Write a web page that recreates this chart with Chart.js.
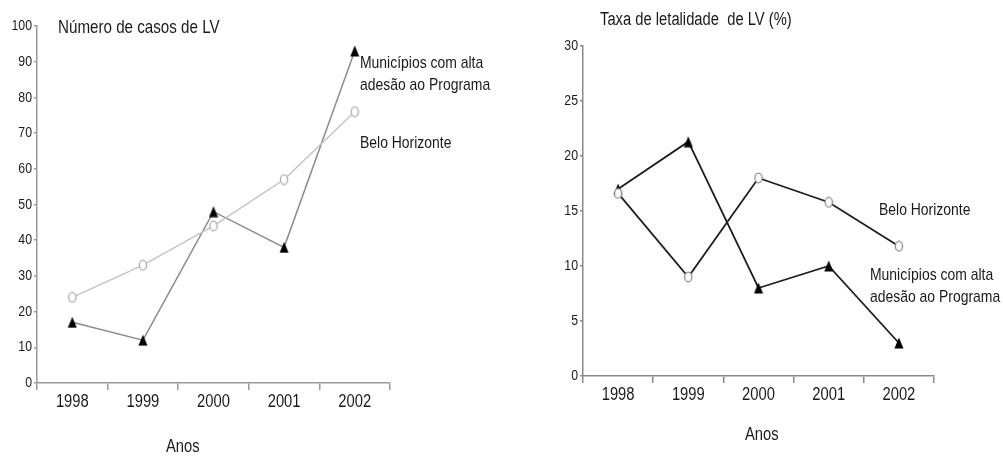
<!DOCTYPE html>
<html lang="pt">
<head>
<meta charset="utf-8">
<script src="https://cdn.jsdelivr.net/npm/chart.js@4.4.1/dist/chart.umd.min.js"></script>
<style>
  html, body { margin: 0; padding: 0; background: #fff; }
  #wrap { position: relative; width: 1003px; height: 457px; overflow: hidden; }
  #casos { position: absolute; left: 0; top: 0; }
  #letal { position: absolute; left: 540px; top: 0; }
</style>
</head>
<body>
<div id="wrap">
  <canvas id="casos" width="540" height="457"></canvas>
  <canvas id="letal" width="463" height="457"></canvas>
</div>
<script>
// Anos do período
const anos = ['1998', '1999', '2000', '2001', '2002'];

// Número de casos de LV
const casosBH = [24, 33, 44, 57, 76];
const casosMunicipios = [17, 12, 48, 38, 93];

// Taxa de letalidade de LV (%)
const letalBH = [16.6, 9, 18, 15.8, 11.8];
const letalMunicipios = [17, 21.3, 8, 10, 3];

const FONT = '"Liberation Sans", Arial, sans-serif';
const SQUEEZE = 0.82;   // compressão horizontal do texto
const INK = '#1a1a1a';

// Texto estreito: escala horizontal aplicada ao redor do ponto de ancoragem
function narrowText(ctx, text, x, y, size, align, baseline) {
  ctx.save();
  ctx.font = size + 'px ' + FONT;
  ctx.fillStyle = INK;
  ctx.textAlign = align;
  ctx.textBaseline = baseline;
  ctx.translate(x, y);
  ctx.scale(SQUEEZE, 1);
  ctx.fillText(text, 0, 0);
  ctx.restore();
}

// Marcadores: triângulo cheio e elipse vazada
function triangleMarker(color) {
  const c = document.createElement('canvas');
  c.width = 10; c.height = 12;
  const g = c.getContext('2d');
  g.fillStyle = color;
  g.beginPath();
  g.moveTo(5, 0.5);
  g.lineTo(9.5, 11.5);
  g.lineTo(0.5, 11.5);
  g.closePath();
  g.fill();
  return c;
}
function ovalMarker(stroke) {
  const c = document.createElement('canvas');
  c.width = 10; c.height = 12;
  const g = c.getContext('2d');
  g.fillStyle = '#fff';
  g.strokeStyle = stroke;
  g.lineWidth = 1.3;
  g.beginPath();
  g.ellipse(5, 6, 3.6, 4.9, 0, 0, Math.PI * 2);
  g.fill();
  g.stroke();
  return c;
}

// Rótulos dos eixos desenhados com texto estreito, a partir dos ticks das escalas
const narrowTicksPlugin = {
  id: 'narrowTicks',
  afterDraw(chart, args, opts) {
    const { ctx } = chart;
    const xs = chart.scales.x, ys = chart.scales.y;
    xs.ticks.forEach((t, i) => {
      narrowText(ctx, xs.getLabelForValue(t.value), xs.getPixelForTick(i),
        xs.top + opts.xGap, opts.xSize, 'center', 'middle');
    });
    ys.ticks.forEach((t, i) => {
      narrowText(ctx, String(t.value), ys.right - opts.yGap,
        ys.getPixelForTick(i), opts.ySize, 'right', 'middle');
    });
  }
};

// Textos livres posicionados em relação à área do gráfico
const notesPlugin = {
  id: 'notes',
  afterDatasetsDraw(chart, args, opts) {
    const { ctx, chartArea } = chart;
    (opts.items || []).forEach(it => {
      narrowText(ctx, it.text, chartArea.left + it.dx, chartArea.top + it.dy,
        it.size || 17, 'left', 'middle');
    });
  }
};

function makeChart(id, cfg) {
  const axisColor = cfg.axisColor;
  return new Chart(document.getElementById(id), {
    type: 'line',
    data: {
      labels: anos,
      datasets: cfg.datasets
    },
    options: {
      responsive: false,
      animation: false,
      layout: { padding: cfg.padding },
      plugins: {
        legend: { display: false },
        tooltip: { enabled: false },
        notes: { items: cfg.notes },
        narrowTicks: { xGap: 19, xSize: 18, yGap: 5, ySize: 15 }
      },
      scales: {
        x: {
          offset: true,
          grid: {
            offset: true,
            drawOnChartArea: false,
            drawTicks: true,
            tickLength: 7,
            color: axisColor,
            lineWidth: 1.5
          },
          border: { color: axisColor, width: 1.5 },
          ticks: { display: false },
          afterFit(scale) { scale.height = cfg.xHeight; }
        },
        y: {
          min: 0,
          max: cfg.yMax,
          ticks: { display: false, stepSize: cfg.yStep },
          grid: {
            drawOnChartArea: false,
            drawTicks: true,
            tickLength: 3,
            color: axisColor,
            lineWidth: 1.5
          },
          border: { color: axisColor, width: 1.5 },
          afterFit(scale) { scale.width = cfg.yWidth; }
        }
      }
    },
    plugins: [notesPlugin, narrowTicksPlugin]
  });
}

// Número de casos de LV
makeChart('casos', {
  axisColor: '#9a9a9a',
  yMax: 100,
  yStep: 10,
  yWidth: 37,
  xHeight: 74,
  padding: { left: 0, top: 26, right: 150, bottom: 0 },
  datasets: [
    {
      label: 'Belo Horizonte',
      data: casosBH,
      borderColor: '#c4c4c4',
      borderWidth: 1.5,
      tension: 0,
      pointStyle: ovalMarker('#a8a8a8'),
      pointRadius: 5
    },
    {
      label: 'Municípios com alta adesão ao Programa',
      data: casosMunicipios,
      borderColor: '#8c8c8c',
      borderWidth: 1.5,
      tension: 0,
      pointStyle: triangleMarker('#000'),
      pointRadius: 5
    }
  ],
  notes: [
    { text: 'Número de casos de LV', dx: 21, dy: 2, size: 18.5 },
    { text: 'Municípios com alta', dx: 323, dy: 37, size: 17 },
    { text: 'adesão ao Programa', dx: 323, dy: 59, size: 17 },
    { text: 'Belo Horizonte', dx: 323, dy: 117, size: 17 },
    { text: 'Anos', dx: 129, dy: 421, size: 18 }
  ]
});

// Taxa de letalidade de LV (%)
makeChart('letal', {
  axisColor: '#8a8a8a',
  yMax: 30,
  yStep: 5,
  yWidth: 43,
  xHeight: 81,
  padding: { left: 0, top: 46, right: 69, bottom: 0 },
  datasets: [
    {
      label: 'Belo Horizonte',
      data: letalBH,
      borderColor: '#1e1e1e',
      borderWidth: 1.8,
      tension: 0,
      pointStyle: ovalMarker('#8a8a8a'),
      pointRadius: 5
    },
    {
      label: 'Municípios com alta adesão ao Programa',
      data: letalMunicipios,
      borderColor: '#1e1e1e',
      borderWidth: 1.8,
      tension: 0,
      pointStyle: triangleMarker('#000'),
      pointRadius: 5
    }
  ],
  notes: [
    { text: 'Taxa de letalidade  de LV (%)', dx: 17, dy: -26, size: 18 },
    { text: 'Belo Horizonte', dx: 296, dy: 164, size: 17 },
    { text: 'Municípios com alta', dx: 287, dy: 229, size: 17 },
    { text: 'adesão ao Programa', dx: 287, dy: 251, size: 17 },
    { text: 'Anos', dx: 162, dy: 389, size: 18 }
  ]
});
</script>
</body>
</html>
